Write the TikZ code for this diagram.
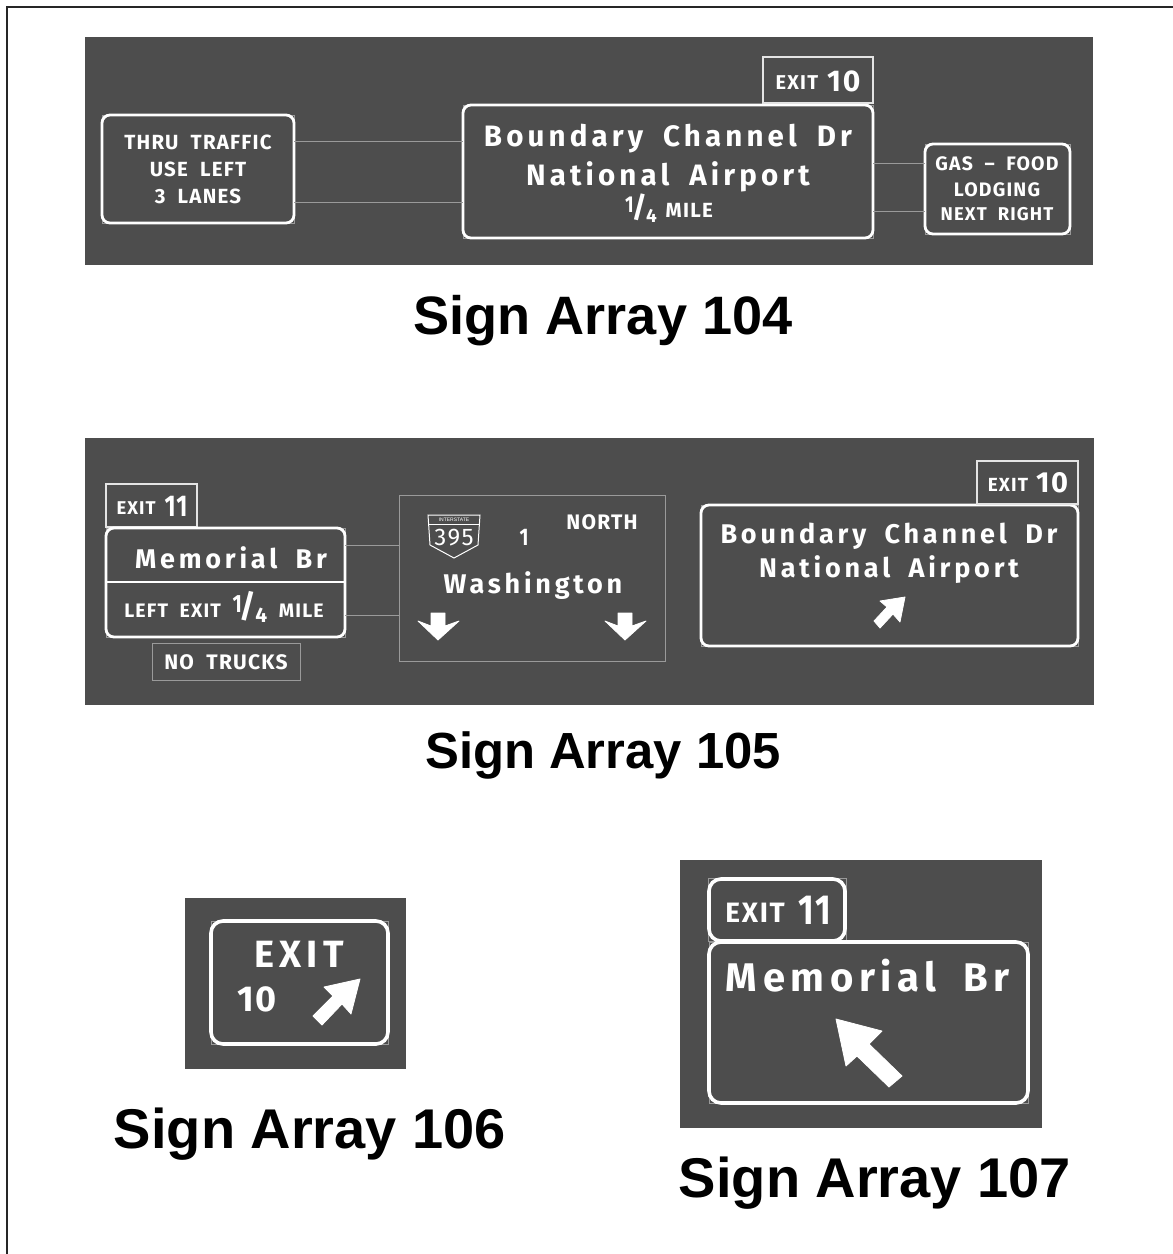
\documentclass[tikz,border=0pt]{standalone}
\usepackage{fontspec}
\setmainfont{Liberation Sans}
\newfontfamily\signfont[LetterSpace=6,WordSpace=2]{Fira Sans}
\newfontfamily\signwide[LetterSpace=14,WordSpace=1.8]{Fira Sans}
\newcommand{\sgn}[1]{\fontsize{#1}{#1}\selectfont\signfont\bfseries}
\newcommand{\sgw}[1]{\fontsize{#1}{#1}\selectfont\signwide\bfseries}
\newcommand{\nrw}[2]{\scalebox{#1}[1]{#2}}
\newcommand{\elvn}{\nrw{.8}{1\kern.02em 1}}
% hand-set one-quarter: digit, slash and lower digit sizes
\newcommand{\qtr}[3]{{\sgn{#1}\raisebox{.2em}{\nrw{.8}{1}}\kern-.08em{\fontsize{#2}{#2}\selectfont/}\kern-.04em\raisebox{-.22em}{\fontsize{#3}{#3}\selectfont 4}}}
\definecolor{panel}{HTML}{4D4D4D}
\definecolor{thin}{HTML}{9A9A9A}
\tikzset{
  x=1pt,y=-1pt,
  panelbox/.style={fill=panel,draw=none},
  signbox/.style={draw=white,line width=2.8pt,rounded corners=8pt},
  signlarge/.style={draw=white,line width=3.6pt,rounded corners=12pt},
  guide/.style={draw=thin,line width=0.7pt},
  tabbox/.style={draw=white!85!panel,line width=1.4pt},
  conn/.style={draw=thin,line width=1pt},
  txt/.style={text=white,inner sep=0pt,outer sep=0pt,align=center},
  caption/.style={text=black,inner sep=0pt,outer sep=0pt},
  arrowfill/.style={fill=white,draw=white,line width=0.8pt,line join=round},
}
% name, x1, y1, x2, y2, style
\newcommand{\bx}[6]{\path[#6] (#2,#3) rectangle (#4,#5);\node[inner sep=0pt,outer sep=0pt,minimum width=#4pt-#2pt,minimum height=#5pt-#3pt] (#1) at ({(#2+#4)/2},{(#3+#5)/2}) {};}
\newcommand{\sg}[5]{\draw[guide] (#2,#3) rectangle (#4,#5);\bx{#1}{#2}{#3}{#4}{#5}{signbox}}
\newcommand{\sgl}[5]{\draw[guide] (#2,#3) rectangle (#4,#5);\bx{#1}{#2}{#3}{#4}{#5}{signlarge}}
\newcommand{\capt}[1]{\fontsize{#1}{#1}\selectfont\bfseries}
\begin{document}
\begin{tikzpicture}
\useasboundingbox (0,0) rectangle (1173,1254);
\fill[white] (0,0) rectangle (1173,1254);
\draw[black!85,line width=2pt] (7,1260) -- (7,7) -- (1180,7);
% panels
\bx{p1}{85}{37}{1093}{265}{panelbox}
\bx{p2}{85}{438}{1094}{705}{panelbox}
\bx{p3}{185}{898}{406}{1069}{panelbox}
\bx{p4}{680}{860}{1042}{1128}{panelbox}
% Array 104
\sg{a}{102}{115}{294}{223}
\sg{b}{463}{105}{873}{238}
\sg{c}{925}{144}{1070}{234}
\bx{d}{763}{57}{873}{103}{tabbox}
\draw[conn] (a.east |- 0,141) -- (b.west |- 0,141);
\draw[conn] (a.east |- 0,202) -- (b.west |- 0,202);
\draw[conn] (b.east |- 0,163) -- (c.west |- 0,163);
\draw[conn] (b.east |- 0,211) -- (c.west |- 0,211);
\node[txt] (a1) at (198,142) {\sgn{20.5}THRU TRAFFIC};
\node[txt] (a2) at (198,169) {\sgn{20.5}USE LEFT};
\node[txt] (a3) at (198,196) {\sgn{20.5}3 LANES};
\node[txt] (b1) at (668,139) {\sgw{29.5}Boundary Channel Dr};
\node[txt] (b2) at (668,177) {\sgw{29.5}National Airport};
\node[txt] (b3) at (669,208) {\qtr{23}{29}{19}\kern9pt\sgn{20.5}MILE};
\node[txt] (c1) at (997,164) {\sgn{19.5}GAS – FOOD};
\node[txt] (c2) at (997,190) {\sgn{19.5}LODGING};
\node[txt] (c3) at (997,214) {\sgn{18.5}NEXT RIGHT};
\node[txt] (d1) at (818,81) {\sgn{20}\raisebox{2pt}{EXIT}\hspace{9pt}\sgn{30}10};
% Array 105
\bx{e}{106}{484}{197}{527}{tabbox}
\sg{f}{106}{528}{345}{637}
\bx{g}{152}{643}{300}{680}{guide}
\bx{h}{399}{495}{665}{661}{guide}
\sg{i}{701}{505}{1078}{646}
\bx{j}{977}{461}{1078}{504}{tabbox}
\draw[white,line width=1.8pt] (f.west |- 0,582) -- (f.east |- 0,582);
\draw[conn] (f.east |- 0,545) -- (h.west |- 0,545);
\draw[conn] (f.east |- 0,615) -- (h.west |- 0,615);
\node[txt] (e1) at (152,506) {\sgn{18.5}\raisebox{1.5pt}{EXIT}\hspace{9pt}\sgn{30}\elvn};
\node[txt] (f1) at (231,558) {\sgw{27}Memorial Br};
\node[txt] (f2) at (224,607) {\sgn{19.5}LEFT EXIT \qtr{25}{32}{21}\sgn{19.5} MILE};
\node[txt] (g1) at (226,662) {\sgn{21}NO TRUCKS};
\node[txt] (h1) at (602,522) {\sgn{21}NORTH};
\node[txt] (h2) at (524,537) {\sgn{24}\nrw{.8}{1}};
\node[txt] (h3) at (533,586) {\sgw{27}Washington};
% shield
\draw[white,line width=1pt] (428,515) -- (480,515) -- (478,545) -- (454,558) -- (430,545) -- cycle;
\draw[white,line width=1pt] (428,524) -- (480,524);
\node[txt] (h4) at (454,519.5) {\fontsize{5}{5}\selectfont INTERSTATE};
\node[txt] (h5) at (454,538) {\fontsize{24}{24}\selectfont\signfont 395};
\fill[arrowfill] (438,640) -- (418,621) -- (431,626) -- (431,613) -- (445,613) -- (445,626) -- (459,621) -- cycle;
\fill[arrowfill] (625,640) -- (605,621) -- (618,626) -- (618,613) -- (632,613) -- (632,626) -- (646,621) -- cycle;
\node[txt] (i1) at (889,536) {\sgw{27}Boundary Channel Dr};
\node[txt] (i2) at (889,570) {\sgw{27}National Airport};
\fill[arrowfill] (905,597) -- (900,622) -- (893,614) -- (880,628) -- (874,621) -- (887,607) -- (880,601) -- cycle;
\node[txt] (j1) at (1028,483) {\sgn{19}\raisebox{1.5pt}{EXIT}\hspace{8pt}\sgn{29}10};
% Array 106
\sgl{k}{211}{921}{388}{1044}
\node[txt] (k1) at (299,954) {\sgw{38}EXIT};
\node[txt] (k2) at (257,999) {\sgn{36}10};
\fill[arrowfill] (360,979) -- (351,1014) -- (342,1004) -- (322,1025) -- (313,1016) -- (333,996) -- (324,987) -- cycle;
% Array 107
\draw[guide] (708,878) rectangle (846,941);
\bx{l}{709}{879}{845}{941}{signlarge}
\sgl{m}{709}{942}{1028}{1103}
\node[txt] (l1) at (778,910) {\sgn{28}\raisebox{2pt}{EXIT}\hspace{14pt}\sgn{42}\elvn};
\node[txt] (m1) at (868,976) {\sgw{40}Memorial Br};
\fill[arrowfill] (836,1019) -- (882,1031) -- (869,1044) -- (902,1076) -- (889,1087) -- (857,1056) -- (846,1066) -- cycle;
% captions
\node[caption] (t1) at (603,321) {\capt{54.1}Sign Array 104};
\node[caption] (t2) at (603,755) {\capt{50.8}Sign Array 105};
\node[caption] (t3) at (310,1134) {\capt{56}Sign Array 106};
\node[caption] (t4) at (875,1183) {\capt{56}Sign Array 107};
\end{tikzpicture}
\end{document}
